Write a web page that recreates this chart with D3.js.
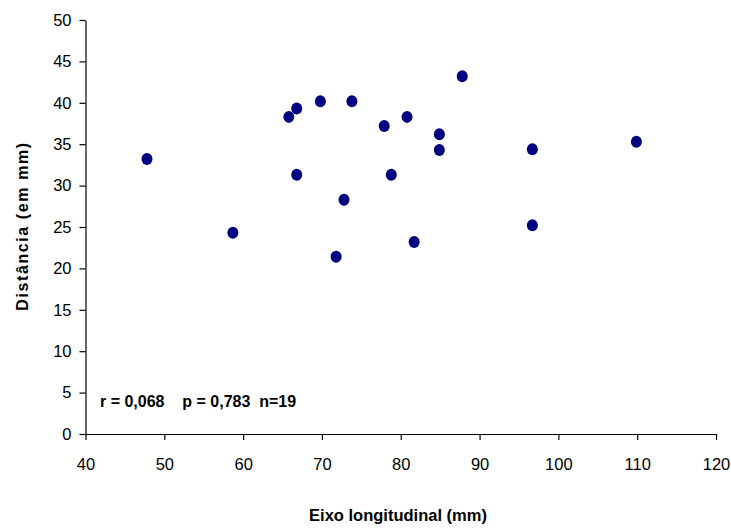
<!DOCTYPE html>
<html>
<head>
<meta charset="utf-8">
<script src="https://cdn.jsdelivr.net/npm/d3@7"></script>
<style>
  body { margin: 0; background: #fff; }
  svg { display: block; font-family: "Liberation Sans", Arial, sans-serif; }
</style>
</head>
<body>
<svg id="chart" width="731" height="529"></svg>
<script>
const xValues = [47.8, 58.7, 65.8, 66.8, 66.8, 69.8, 73.8, 77.9, 80.8, 84.9, 84.9, 78.8, 72.8, 81.7, 71.8, 87.8, 96.7, 109.9, 96.7];
const yValues = [33.2, 24.3, 38.3, 39.3, 31.3, 40.2, 40.2, 37.2, 38.3, 36.2, 34.3, 31.3, 28.3, 23.2, 21.4, 43.2, 34.4, 35.3, 25.2];
const xTicks = [40, 50, 60, 70, 80, 90, 100, 110, 120];
const yTicks = [0, 5, 10, 15, 20, 25, 30, 35, 40, 45, 50];
const xTitle = "Eixo longitudinal (mm)";
const yTitle = "Distância (em mm)";
const note = "r = 0,068    p = 0,783  n=19";

const svg = d3.select("#chart");
const plotLeft = 85.5, plotRight = 716, plotTop = 20, plotBottom = 434;

const x = d3.scaleLinear().domain([40, 120]).range([plotLeft, plotRight]);
const y = d3.scaleLinear().domain([0, 50]).range([plotBottom, plotTop]);

const xAxis = svg.append("g")
  .attr("transform", `translate(0,${plotBottom})`)
  .call(d3.axisBottom(x).tickValues(xTicks).tickSize(6).tickPadding(18).tickSizeOuter(0));
const yAxis = svg.append("g")
  .attr("transform", `translate(${plotLeft},0)`)
  .call(d3.axisLeft(y).tickValues(yTicks).tickSize(6).tickPadding(8).tickSizeOuter(0));

[xAxis, yAxis].forEach(g => {
  g.selectAll("path, line").attr("stroke", "#000").attr("stroke-width", 1.2);
  g.selectAll("text").attr("font-size", 16.5).attr("fill", "#000")
    .attr("font-family", '"Liberation Sans", Arial, sans-serif');
});

const pts = xValues.map((v, i) => ({ x: v, y: yValues[i] }));
svg.append("g").selectAll("ellipse").data(pts).join("ellipse")
  .attr("cx", d => x(d.x))
  .attr("cy", d => y(d.y))
  .attr("rx", 5.5)
  .attr("ry", 6)
  .attr("fill", "#000080");

svg.append("text")
  .attr("x", 398)
  .attr("y", 521)
  .attr("text-anchor", "middle")
  .attr("font-size", 16.5)
  .attr("font-weight", "bold")
  .text(xTitle);

svg.append("text")
  .attr("transform", `translate(28,226) rotate(-90)`)
  .attr("text-anchor", "middle")
  .attr("font-size", 16)
  .attr("letter-spacing", 1.6)
  .attr("font-weight", "bold")
  .text(yTitle);

svg.append("text")
  .attr("x", 100)
  .attr("y", 407)
  .attr("font-size", 16)
  .attr("font-weight", "bold")
  .attr("xml:space", "preserve")
  .style("white-space", "pre")
  .text(note);
</script>
</body>
</html>
